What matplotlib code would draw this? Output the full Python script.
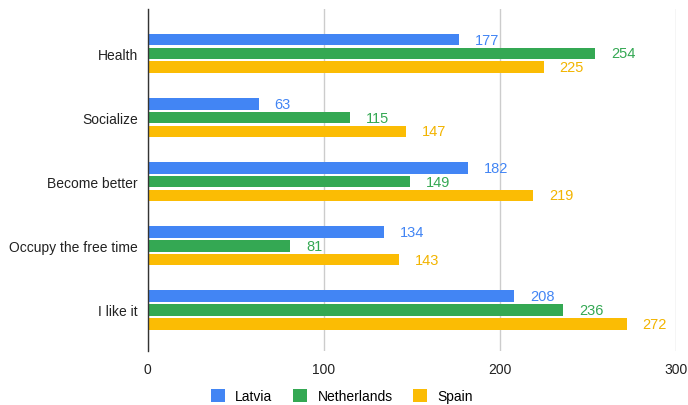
import numpy as np
import matplotlib.pyplot as plt

plt.rcParams['font.family'] = ['Liberation Sans', 'DejaVu Sans']

categories = ["Health", "Socialize", "Become better", "Occupy the free time", "I like it"]
latvia = [177, 63, 182, 134, 208]
netherlands = [254, 115, 149, 81, 236]
spain = [225, 147, 219, 143, 272]
series_names = ["Latvia", "Netherlands", "Spain"]
colors = ["#4285F4", "#34A853", "#FBBC04"]
label_colors = ["#4285F4", "#34A853", "#F2B400"]

fig = plt.figure(figsize=(6.88, 4.06), dpi=100)
ax = fig.add_axes([0.2145, 0.133, 0.768, 0.842])

y = np.arange(len(categories))
off = 0.215
h = 0.18
for i, (vals, name) in enumerate(zip([latvia, netherlands, spain], series_names)):
    pos = y + (i - 1) * off
    ax.barh(pos, vals, height=h, color=colors[i], label=name, zorder=3)
    for p, v in zip(pos, vals):
        ax.text(v + 9, p, str(v), va='center', ha='left', fontsize=10.5,
                color=label_colors[i], zorder=4)

ax.set_xlim(0, 300)
ax.set_ylim(4.64, -0.69)
ax.set_yticks(y)
ax.set_yticklabels(categories, fontsize=10, color='#222222')
ax.set_xticks([0, 100, 200, 300])
ax.set_xticklabels(['0', '100', '200', '300'], fontsize=10, color='#222222')
ax.tick_params(axis='both', length=0, pad=8)
ax.tick_params(axis='y', pad=7)
ax.grid(axis='x', color='#cccccc', linewidth=1, zorder=0)
for s in ['top', 'right', 'bottom']:
    ax.spines[s].set_visible(False)
ax.spines['left'].set_color('#333333')
ax.spines['left'].set_linewidth(1)
ax.spines['left'].set_zorder(5)

fig.legend(*ax.get_legend_handles_labels(), loc='center', bbox_to_anchor=(0.497, 0.022),
           ncol=3, frameon=False, fontsize=10, handlelength=1.0, handleheight=1.0,
           handletextpad=0.75, columnspacing=1.5, borderaxespad=0)

fig.savefig('out.png', dpi=100)
